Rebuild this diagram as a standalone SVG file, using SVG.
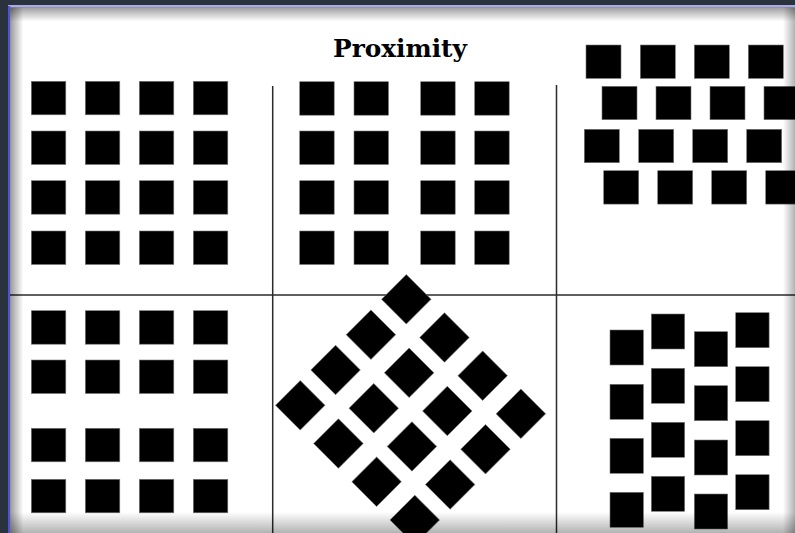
<svg xmlns="http://www.w3.org/2000/svg" width="795" height="533" viewBox="0 0 795 533">
<style>
.sq{fill:#000;stroke:#777;stroke-width:0.6}
.ln{stroke:#2a2a2a;stroke-width:1.5;fill:none}
.title{font-family:"DejaVu Serif","Liberation Serif",serif;font-weight:bold;font-size:24.8px;fill:#000}
</style>
<defs>
<linearGradient id="gTop" x1="0" y1="0" x2="0" y2="1"><stop offset="0" stop-color="#000" stop-opacity="0.38"/><stop offset="1" stop-color="#000" stop-opacity="0"/></linearGradient>
<linearGradient id="gLeft" x1="0" y1="0" x2="1" y2="0"><stop offset="0" stop-color="#000" stop-opacity="0.4"/><stop offset="1" stop-color="#000" stop-opacity="0"/></linearGradient>
<linearGradient id="gRight" x1="1" y1="0" x2="0" y2="0"><stop offset="0" stop-color="#000" stop-opacity="0.3"/><stop offset="1" stop-color="#000" stop-opacity="0"/></linearGradient>
<linearGradient id="gBot" x1="0" y1="1" x2="0" y2="0"><stop offset="0" stop-color="#000" stop-opacity="0.3"/><stop offset="1" stop-color="#000" stop-opacity="0"/></linearGradient>
<rect id="s" width="34.5" height="33.5" class="sq"/>
<rect id="sw" width="35" height="33.4" class="sq"/>
<rect id="st" width="33.4" height="35" class="sq"/>
<rect id="sd" x="-17.5" y="-17.5" width="35" height="35" class="sq"/>
</defs>
<rect width="795" height="533" fill="#2a333d"/>
<rect x="8" y="5" width="787" height="2.5" fill="#aaa9ea"/>
<rect x="8" y="6" width="2.2" height="527" fill="#4c54d4"/>
<rect x="10.2" y="7.5" width="784.8" height="525.5" fill="#fff"/>

<text class="title" x="400" y="57" text-anchor="middle">Proximity</text>

<g id="connectors">
<line class="ln" x1="10" y1="295" x2="795" y2="295"/>
<line class="ln" x1="272.7" y1="86" x2="272.7" y2="533"/>
<line class="ln" x1="556.5" y1="85" x2="556.5" y2="533"/>
</g>

<g id="grid-top-left">
<use href="#s" x="31.3" y="81.3"/><use href="#s" x="85.3" y="81.3"/><use href="#s" x="139.3" y="81.3"/><use href="#s" x="193.3" y="81.3"/>
<use href="#s" x="31.3" y="131"/><use href="#s" x="85.3" y="131"/><use href="#s" x="139.3" y="131"/><use href="#s" x="193.3" y="131"/>
<use href="#s" x="31.3" y="180.7"/><use href="#s" x="85.3" y="180.7"/><use href="#s" x="139.3" y="180.7"/><use href="#s" x="193.3" y="180.7"/>
<use href="#s" x="31.3" y="231"/><use href="#s" x="85.3" y="231"/><use href="#s" x="139.3" y="231"/><use href="#s" x="193.3" y="231"/>
</g>

<g id="grid-top-middle">
<use href="#s" x="299.7" y="81.7"/><use href="#s" x="354" y="81.7"/><use href="#s" x="420.7" y="81.7"/><use href="#s" x="474.7" y="81.7"/>
<use href="#s" x="299.7" y="131"/><use href="#s" x="354" y="131"/><use href="#s" x="420.7" y="131"/><use href="#s" x="474.7" y="131"/>
<use href="#s" x="299.7" y="180.7"/><use href="#s" x="354" y="180.7"/><use href="#s" x="420.7" y="180.7"/><use href="#s" x="474.7" y="180.7"/>
<use href="#s" x="299.7" y="231"/><use href="#s" x="354" y="231"/><use href="#s" x="420.7" y="231"/><use href="#s" x="474.7" y="231"/>
</g>

<g id="grid-top-right">
<use href="#sw" x="586" y="45"/><use href="#sw" x="640.3" y="45"/><use href="#sw" x="694.3" y="45"/><use href="#sw" x="748.3" y="45"/>
<use href="#sw" x="602" y="86.3"/><use href="#sw" x="656" y="86.3"/><use href="#sw" x="710" y="86.3"/><use href="#sw" x="764" y="86.3"/>
<use href="#sw" x="584.3" y="129.3"/><use href="#sw" x="638.7" y="129.3"/><use href="#sw" x="692.7" y="129.3"/><use href="#sw" x="746.7" y="129.3"/>
<use href="#sw" x="603.7" y="170.7"/><use href="#sw" x="657.7" y="170.7"/><use href="#sw" x="711.7" y="170.7"/><use href="#sw" x="765.7" y="170.7"/>
</g>

<g id="grid-bottom-left">
<use href="#s" x="31.3" y="310.7"/><use href="#s" x="85.3" y="310.7"/><use href="#s" x="139.3" y="310.7"/><use href="#s" x="193.3" y="310.7"/>
<use href="#s" x="31.3" y="360"/><use href="#s" x="85.3" y="360"/><use href="#s" x="139.3" y="360"/><use href="#s" x="193.3" y="360"/>
<use href="#s" x="31.3" y="428.3"/><use href="#s" x="85.3" y="428.3"/><use href="#s" x="139.3" y="428.3"/><use href="#s" x="193.3" y="428.3"/>
<use href="#s" x="31.3" y="479.3"/><use href="#s" x="85.3" y="479.3"/><use href="#s" x="139.3" y="479.3"/><use href="#s" x="193.3" y="479.3"/>
</g>

<g id="grid-bottom-middle" transform="translate(406.3 299.3) rotate(45)">
<use href="#sd" x="0" y="0"/><use href="#sd" x="54" y="0"/><use href="#sd" x="108" y="0"/><use href="#sd" x="162" y="0"/>
<use href="#sd" x="0" y="50"/><use href="#sd" x="54" y="50"/><use href="#sd" x="108" y="50"/><use href="#sd" x="162" y="50"/>
<use href="#sd" x="0" y="100"/><use href="#sd" x="54" y="100"/><use href="#sd" x="108" y="100"/><use href="#sd" x="162" y="100"/>
<use href="#sd" x="0" y="150"/><use href="#sd" x="54" y="150"/><use href="#sd" x="108" y="150"/><use href="#sd" x="162" y="150"/>
</g>

<g id="grid-bottom-right">
<use href="#st" x="610" y="330"/><use href="#st" x="610" y="384.3"/><use href="#st" x="610" y="438.3"/><use href="#st" x="610" y="492.3"/>
<use href="#st" x="651.3" y="314"/><use href="#st" x="651.3" y="368.3"/><use href="#st" x="651.3" y="422.3"/><use href="#st" x="651.3" y="476.3"/>
<use href="#st" x="694.3" y="331.7"/><use href="#st" x="694.3" y="385.7"/><use href="#st" x="694.3" y="440"/><use href="#st" x="694.3" y="494"/>
<use href="#st" x="735.7" y="312.7"/><use href="#st" x="735.7" y="366.7"/><use href="#st" x="735.7" y="420.7"/><use href="#st" x="735.7" y="474.7"/>
</g>

<rect x="10.2" y="7.5" width="784.8" height="14" fill="url(#gTop)"/>
<rect x="10.2" y="7.5" width="13" height="525.5" fill="url(#gLeft)"/>
<rect x="783" y="7.5" width="12" height="525.5" fill="url(#gRight)"/>
<rect x="10.2" y="512" width="784.8" height="21" fill="url(#gBot)"/>
</svg>
